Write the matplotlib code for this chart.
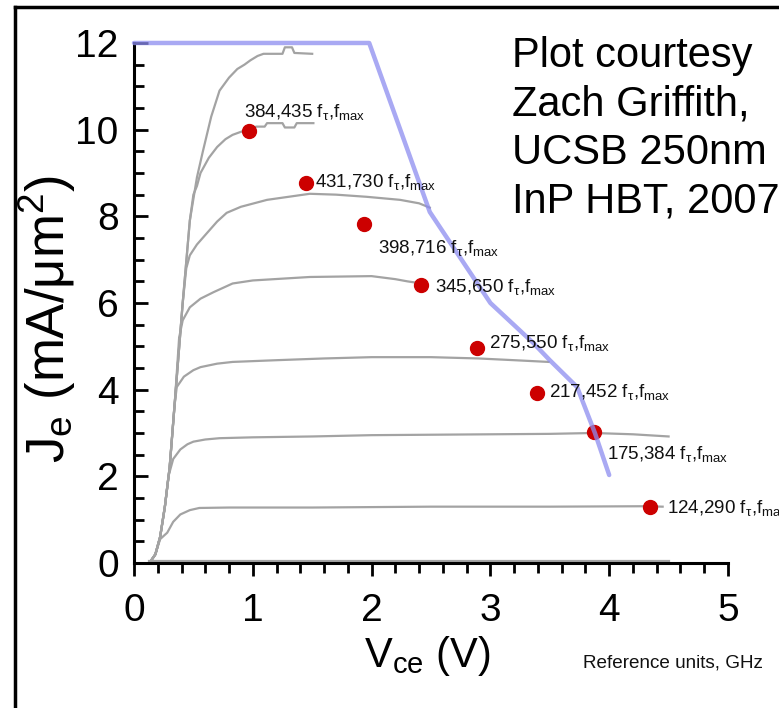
import matplotlib
matplotlib.use("Agg")
import matplotlib.pyplot as plt
from matplotlib.lines import Line2D
from matplotlib.ticker import MultipleLocator

plt.rcParams["font.family"] = ["Liberation Sans", "DejaVu Sans"]
plt.rcParams["mathtext.fontset"] = "custom"
plt.rcParams["mathtext.rm"] = "Liberation Sans"
plt.rcParams["mathtext.it"] = "Liberation Sans:italic"
plt.rcParams["mathtext.bf"] = "Liberation Sans:bold"

# Data: I-V curves (Vce in V, Je in mA/um^2)
vce_0 = [0.13, 1.0, 2.0, 3.0, 4.0, 4.5]
je_0 = [0.04, 0.04, 0.04, 0.04, 0.04, 0.04]

vce_1 = [0.13, 0.18, 0.22, 0.28, 0.33, 0.39, 0.47, 0.55, 0.8, 1.5, 2.5, 3.5, 4.3, 4.45]
je_1 = [0.0, 0.2, 0.55, 0.7, 0.95, 1.12, 1.22, 1.27, 1.28, 1.28, 1.3, 1.3, 1.31, 1.3]

vce_2 = [0.13, 0.18, 0.22, 0.26, 0.29, 0.33, 0.39, 0.45, 0.5, 0.6, 0.72, 1.0, 1.5, 2.0,
         2.5, 3.0, 3.5, 3.87, 4.2, 4.5]
je_2 = [0.0, 0.2, 0.6, 1.3, 2.0, 2.4, 2.62, 2.74, 2.8, 2.85, 2.88, 2.9, 2.92, 2.95,
        2.96, 2.97, 2.98, 3.0, 2.97, 2.92]

vce_3 = [0.13, 0.18, 0.22, 0.26, 0.30, 0.34, 0.36, 0.42, 0.5, 0.56, 0.7, 0.83, 1.2, 1.6,
         2.0, 2.5, 2.9, 3.2, 3.49]
je_3 = [0.0, 0.2, 0.6, 1.3, 2.2, 3.6, 4.06, 4.3, 4.45, 4.52, 4.6, 4.64, 4.68, 4.72,
        4.75, 4.75, 4.72, 4.68, 4.64]

vce_4 = [0.13, 0.18, 0.22, 0.26, 0.30, 0.345, 0.38, 0.41, 0.47, 0.56, 0.67, 0.83, 1.0,
         1.48, 2.0, 2.2, 2.3, 2.42]
je_4 = [0.0, 0.2, 0.6, 1.3, 2.2, 3.76, 5.2, 5.6, 5.9, 6.1, 6.25, 6.45, 6.52,
        6.6, 6.62, 6.55, 6.5, 6.45]

vce_5 = [0.13, 0.18, 0.22, 0.26, 0.30, 0.345, 0.41, 0.44, 0.47, 0.53, 0.61, 0.7, 0.78,
         0.9, 1.12, 1.3, 1.48, 1.7, 1.96, 2.24, 2.4, 2.49]
je_5 = [0.0, 0.2, 0.6, 1.3, 2.2, 3.76, 6.0, 6.8, 7.1, 7.35, 7.6, 7.88, 8.08,
        8.22, 8.38, 8.45, 8.52, 8.5, 8.45, 8.38, 8.3, 8.2]

vce_6 = [0.13, 0.18, 0.22, 0.26, 0.30, 0.345, 0.41, 0.47, 0.5, 0.53, 0.56, 0.63, 0.70,
         0.77, 0.83, 0.9, 0.96, 1.03, 1.1, 1.12, 1.25, 1.27, 1.35, 1.37, 1.51]
je_6 = [0.0, 0.2, 0.6, 1.3, 2.2, 3.76, 6.0, 7.9, 8.5, 8.7, 9.0, 9.35, 9.6,
        9.78, 9.88, 9.95, 10.0, 10.07, 10.07, 10.15, 10.15, 10.05, 10.05, 10.15, 10.15]

vce_7 = [0.13, 0.18, 0.22, 0.26, 0.30, 0.345, 0.41, 0.47, 0.53, 0.58, 0.65, 0.72, 0.80,
         0.87, 0.93, 0.98, 1.04, 1.09, 1.25, 1.27, 1.33, 1.35, 1.50]
je_7 = [0.0, 0.2, 0.6, 1.3, 2.2, 3.76, 6.0, 7.9, 8.9, 9.5, 10.3, 10.9, 11.2,
        11.4, 11.5, 11.6, 11.7, 11.75, 11.75, 11.9, 11.9, 11.77, 11.75]

curves_v = [vce_0, vce_1, vce_2, vce_3, vce_4, vce_5, vce_6, vce_7]
curves_j = [je_0, je_1, je_2, je_3, je_4, je_5, je_6, je_7]

# bias points and their measured fT / fmax (GHz)
bias_v = [0.97, 1.45, 1.94, 2.42, 2.89, 3.39, 3.87, 4.34]
bias_j = [9.97, 8.77, 7.82, 6.42, 4.96, 3.92, 3.02, 1.29]
ft = [384, 431, 398, 345, 275, 217, 175, 124]
fmax = [435, 730, 716, 650, 550, 452, 384, 290]

# safe operating boundary (blue)
soa_v = [0.0, 1.98, 2.49, 3.0, 3.36, 3.5, 3.73, 3.88, 4.0]
soa_j = [12.0, 12.0, 8.1, 6.0, 5.08, 4.68, 4.06, 3.0, 2.03]

credit_lines = ["Plot courtesy", "Zach Griffith,", "UCSB 250nm", "InP HBT, 2007"]

# label offsets from each dot, in points
label_dx = [-3.6, 6.5, 10, 9.4, 8.6, 8.6, 9.4, 12.2]
label_dy = [10, -2.9, -21, -5, 0, -2.9, -19.4, -4.3]

fig = plt.figure(figsize=(7.79, 7.08), dpi=100)
ax = fig.add_axes([0.172, 0.2048, 0.7625, 0.7345])

for v, j in zip(curves_v, curves_j):
    ax.plot(v, j, color="#a3a3a3", lw=1.6, zorder=2)

ax.plot(soa_v, soa_j, color="#8c8cf0", lw=3.2, alpha=0.75, zorder=4,
        solid_capstyle="round", clip_on=False)

ax.plot(bias_v, bias_j, "o", color="#cc0000", ms=10, zorder=3, clip_on=False)

for i in range(len(ft)):
    txt = f"{ft[i]},{fmax[i]} f" + r"$_\mathregular{τ}$,f$_\mathregular{max}$"
    ax.annotate(txt, (bias_v[i], bias_j[i]), xytext=(label_dx[i], label_dy[i]),
                textcoords="offset points", ha="left", va="baseline",
                fontsize=13.5, color="#111111", zorder=5, annotation_clip=False)

ax.set_xlim(0, 5)
ax.set_ylim(0, 12)
ax.xaxis.set_major_locator(MultipleLocator(1))
ax.xaxis.set_minor_locator(MultipleLocator(0.2))
ax.yaxis.set_major_locator(MultipleLocator(2))
ax.yaxis.set_minor_locator(MultipleLocator(0.5))

for s in ["top", "right"]:
    ax.spines[s].set_visible(False)
for s in ["left", "bottom"]:
    ax.spines[s].set_linewidth(2.2)

ax.tick_params(axis="y", which="both", direction="in", width=2, pad=11, labelsize=28)
ax.tick_params(axis="y", which="major", length=10)
ax.tick_params(axis="y", which="minor", length=7)
ax.tick_params(axis="x", which="both", direction="out", width=2, pad=12, labelsize=28)
ax.tick_params(axis="x", which="major", length=9.5)
ax.tick_params(axis="x", which="minor", length=7)

fig.text(47 / 779, 1 - 319 / 708, r"J$_\mathregular{e}$ (mA/μm$^\mathregular{2}$)",
         rotation=90, ha="center", va="center", fontsize=38)
fig.text(427 / 779, 1 - 667 / 708, r"V$_\mathregular{ce}$ (V)",
         ha="center", va="baseline", fontsize=30)

for k, line in enumerate(credit_lines):
    fig.text(512 / 779, 1 - (67 + 48.5 * k) / 708, line,
             ha="left", va="baseline", fontsize=30)
fig.text(583 / 779, 1 - 668 / 708, "Reference units, GHz", ha="left", va="baseline",
         fontsize=13.6, color="#111111")

# outer frame (top and left edges)
fig.add_artist(Line2D([15 / 779, 15 / 779], [0, 1 - 7 / 708], color="black", lw=2.5))
fig.add_artist(Line2D([15 / 779, 1], [1 - 7 / 708, 1 - 7 / 708], color="black", lw=2.5))

fig.savefig("out.png", dpi=100)
